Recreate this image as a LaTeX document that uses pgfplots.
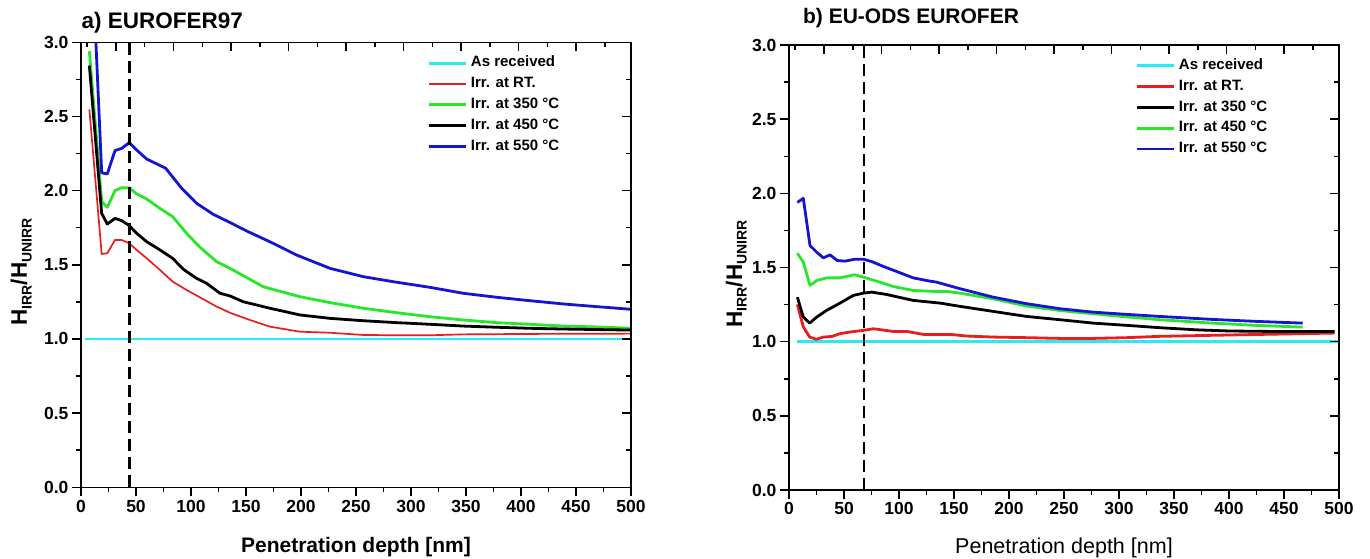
\documentclass[border=0pt]{standalone}
\usepackage{fontspec}
\setmainfont{Liberation Sans}
\usepackage{pgfplots}
\pgfplotsset{compat=1.18}

\definecolor{ocyan}{RGB}{40,235,245}
\definecolor{ored}{RGB}{230,30,30}
\definecolor{ogreen}{RGB}{40,230,40}
\definecolor{oblue}{RGB}{20,20,210}

\newcommand\sub[1]{\raisebox{-4.5pt}{\fontsize{14}{14}\selectfont #1}}

\pgfplotsset{
  frame/.style={
    scale only axis, width=550pt, height=445pt,
    xmin=0, xmax=500, ymin=0, ymax=3,
    axis line style={line width=1.5pt},
    tick style={black, line width=1.5pt},
    major tick length=9pt, minor tick length=5pt,
  },
  panel/.style={
    frame,
    tick align=outside, xtick pos=left, ytick pos=left,
    xtick={0,50,...,500}, ytick={0,0.5,...,3},
    minor x tick num=1, minor y tick num=1,
    tick label style={font=\fontsize{17.5}{20}\selectfont\bfseries},
    /pgf/number format/assume math mode=true,
    yticklabel style={/pgf/number format/.cd, fixed, fixed zerofill, precision=1},
    legend style={at={(0.629,0.970)}, anchor=north west, draw=none, fill=none,
      inner sep=0pt, row sep=6.3pt, column sep=4pt,
      font=\fontsize{15}{17}\selectfont\bfseries,
      nodes={inner sep=0pt, text height=11pt, text depth=3.5pt}},
    legend cell align=left,
    legend image code/.code={\draw[##1] (0pt,0pt) -- (37pt,0pt);},
    line join=round,
  },
  mirror/.style={
    frame,
    tick align=inside, xtick pos=right, ytick pos=right,
    xtick={31.8,84.1,136.4,188.7,241.0,293.3,345.6,397.9,450.2},
    minor xtick={5.65,57.95,110.25,162.55,214.85,267.15,319.45,371.75,424.05,476.35},
    ytick={0,0.5,...,3}, minor y tick num=1,
    xticklabels={}, yticklabels={},
  },
  thk/.style={line width=2.8pt},
  thn/.style={line width=1.7pt},
  vline/.style={black, line width=2.5pt, dash pattern=on 12pt off 6pt, forget plot},
}

\begin{document}
\begin{tikzpicture}[x=1pt,y=1pt]
\useasboundingbox (0,0) rectangle (1370,558);

% a) EUROFER97
\begin{axis}[panel, at={(81pt,70.7pt)}, anchor=south west]
\addplot[ocyan, thk] coordinates {(3.6,1) (500,1)};
\addlegendentry{As received}
\addplot[color=ored, thn] coordinates {
  (7.6,2.548) (18.8,1.573) (23.9,1.578) (30.9,1.667) (37,1.667) (43.9,1.645)
  (50.6,1.600) (59.7,1.544) (71.8,1.465) (83.3,1.387) (96,1.330) (109.7,1.274)
  (123.3,1.218) (136,1.175) (153.6,1.128) (171.8,1.083) (199,1.049) (226.4,1.042)
  (256.6,1.027) (287,1.025) (317.3,1.025) (347.5,1.031) (408,1.034) (500,1.036)};
\addlegendentry{Irr. at RT.}
\addplot[ogreen, thk] coordinates {
  (7.6,2.94) (18.8,1.926) (23.9,1.888) (30.9,2.0) (37,2.02) (43.9,2.02)
  (50.6,1.978) (59.7,1.944) (71.8,1.88) (83.3,1.825) (96,1.712) (108.2,1.618)
  (123.3,1.521) (135.5,1.476) (165.7,1.352) (199,1.285) (226.4,1.245) (256.6,1.207)
  (287,1.177) (317.3,1.150) (347.5,1.128) (377.9,1.110) (408,1.099) (438.5,1.087)
  (468.8,1.081) (500,1.072)};
\addlegendentry{Irr. at 350 °C}
\addplot[black, thk] coordinates {
  (7.6,2.843) (18.8,1.847) (23.9,1.775) (30.9,1.813) (37,1.798) (43.9,1.764)
  (50.6,1.712) (59.7,1.656) (71.8,1.600) (83.3,1.544) (93,1.47) (105,1.409)
  (114.2,1.375) (126.4,1.308) (135.5,1.29) (147.5,1.251) (171.8,1.207) (199,1.162)
  (226.4,1.139) (256.6,1.123) (287,1.110) (317.3,1.099) (347.5,1.087) (377.9,1.079)
  (408,1.072) (438.5,1.067) (500,1.060)};
\addlegendentry{Irr. at 450 °C}
\addplot[oblue, thk] coordinates {
  (7.6,4.0) (18.8,2.121) (23.9,2.112) (30.9,2.27) (37,2.285) (43.9,2.324)
  (50.6,2.274) (59.7,2.213) (77,2.151) (91.5,2.016) (105,1.915) (120.3,1.84)
  (135.5,1.785) (150,1.73) (171.8,1.655) (196,1.566) (226.4,1.476) (256.6,1.420)
  (283.9,1.386) (317.3,1.348) (347.5,1.308) (377.9,1.281) (408.2,1.258)
  (438.5,1.236) (468.8,1.218) (500,1.20)};
\addlegendentry{Irr. at 550 °C}
\addplot[vline] coordinates {(44,0) (44,3)};
\end{axis}
\begin{axis}[mirror, at={(81pt,70.7pt)}, anchor=south west]
\end{axis}

% b) EU-ODS EUROFER
\begin{axis}[panel, at={(789pt,68pt)}, anchor=south west]
\addplot[ocyan, thk] coordinates {(7.6,1) (500,1)};
\addlegendentry{As received}
\addplot[ored, thk] coordinates {
  (7.6,1.251) (13,1.099) (18.8,1.031) (24.8,1.016) (31.2,1.031) (38.8,1.035)
  (46.4,1.054) (55.5,1.065) (67.6,1.076) (76.7,1.087) (94.8,1.069) (107,1.069)
  (122.1,1.049) (146.4,1.049) (161.5,1.038) (185.7,1.031) (216,1.027) (246.4,1.022)
  (276.6,1.022) (307,1.027) (337.3,1.036) (400,1.045) (496,1.058)};
\addlegendentry{Irr. at RT.}
\addplot[black, thk] coordinates {
  (7.6,1.300) (13,1.166) (18.8,1.125) (25.2,1.166) (34.2,1.211) (46.4,1.260)
  (58.5,1.312) (67.6,1.327) (75.2,1.334) (88.8,1.318) (113,1.278) (137.3,1.260)
  (155.5,1.238) (185.7,1.204) (216,1.170) (246.4,1.148) (276.6,1.125) (307,1.110)
  (337.3,1.094) (370,1.08) (400,1.072) (450,1.068) (496,1.069)};
\addlegendentry{Irr. at 350 °C}
\addplot[ogreen, thk] coordinates {
  (7.6,1.596) (13,1.536) (19.1,1.379) (25.2,1.412) (34.2,1.430) (46.4,1.430)
  (59.4,1.451) (67.6,1.435) (79.7,1.408) (94.8,1.372) (113,1.345) (131.2,1.339)
  (143.3,1.339) (155.5,1.327) (185.7,1.289) (216,1.240) (246.4,1.210) (276.6,1.188)
  (307,1.167) (337.3,1.148) (385,1.125) (424,1.110) (467,1.098)};
\addlegendentry{Irr. at 450 °C}
\addplot[oblue, thk] coordinates {
  (7.6,1.939) (13,1.966) (19.1,1.648) (25.2,1.603) (31.2,1.565) (37.3,1.585)
  (43.9,1.547) (50.9,1.543) (60,1.556) (67.6,1.556) (75.2,1.540) (85.8,1.507)
  (97.9,1.473) (113,1.430) (125.2,1.412) (134.3,1.401) (155.5,1.357) (185.7,1.300)
  (216,1.256) (246.4,1.222) (276.6,1.199) (307,1.184) (337.3,1.170) (385,1.150)
  (424,1.137) (467,1.125)};
\addlegendentry{Irr. at 550 °C}
\addplot[vline] coordinates {(68,0) (68,3)};
\end{axis}
\begin{axis}[mirror, at={(789pt,68pt)}, anchor=south west]
\end{axis}

% titles and axis labels
\node[anchor=base west, font=\fontsize{22.5}{26}\selectfont\bfseries] at (78,529.7) {a) EUROFER97};
\node[anchor=base west, font=\fontsize{21}{24}\selectfont\bfseries] at (799.6,534) {b) EU-ODS EUROFER};
\node[anchor=base, font=\fontsize{21}{24}\selectfont\bfseries] at (356,6) {Penetration depth [nm]};
\node[anchor=base, font=\fontsize{21.5}{24}\selectfont] at (1064,4.7) {Penetration depth [nm]};
\node[rotate=90, anchor=base west, font=\fontsize{22.5}{26}\selectfont\bfseries] at (27,229) {H\sub{IRR}/H\sub{UNIRR}};
\node[rotate=90, anchor=base west, font=\fontsize{22.5}{26}\selectfont\bfseries] at (742,227) {H\sub{IRR}/H\sub{UNIRR}};
\end{tikzpicture}
\end{document}
